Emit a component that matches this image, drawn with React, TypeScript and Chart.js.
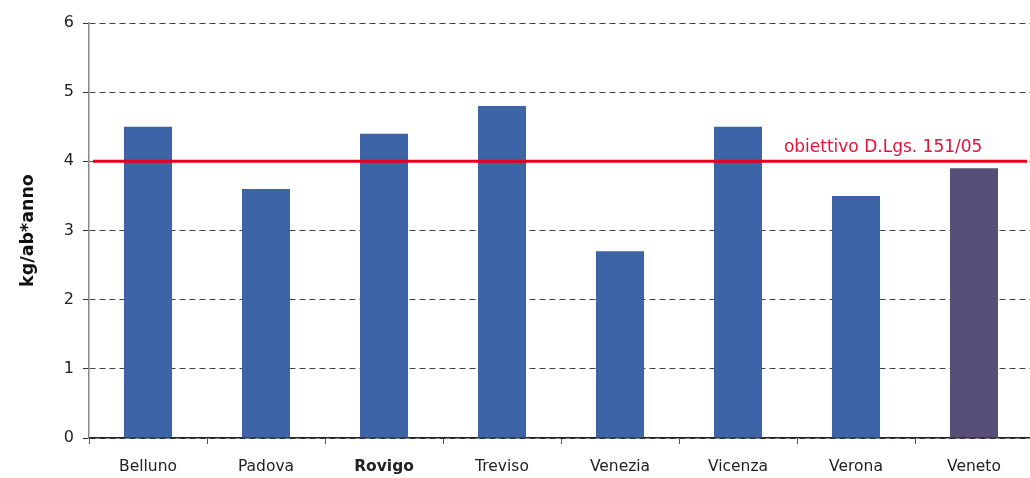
import React, { useEffect, useRef } from "react";
import { Chart, registerables } from "chart.js";

Chart.register(...registerables);

const categories = ["Belluno", "Padova", "Rovigo", "Treviso", "Venezia", "Vicenza", "Verona", "Veneto"];
const values = [4.5, 3.6, 4.4, 4.8, 2.7, 4.5, 3.5, 3.9];
const barColors = ["#3E64A8", "#3E64A8", "#3E64A8", "#3E64A8", "#3E64A8", "#3E64A8", "#3E64A8", "#574F77"];
const targetValue = 4;
const targetLabel = "obiettivo D.Lgs. 151/05";
const yTicks = [0, 1, 2, 3, 4, 5, 6];
const yTitle = "kg/ab*anno";
const boldCategory = "Rovigo";

const FONT = "'DejaVu Sans', Verdana, sans-serif";

const targetPlugin = {
  id: "targetLine",
  afterDatasetsDraw(chart: any) {
    const { ctx, chartArea, scales } = chart;
    const y = scales.y.getPixelForValue(targetValue);
    ctx.save();
    ctx.strokeStyle = "#E8001C";
    ctx.lineWidth = 3;
    ctx.beginPath();
    ctx.moveTo(chartArea.left + 4, y);
    ctx.lineTo(chartArea.right - 6, y);
    ctx.stroke();
    ctx.fillStyle = "#E2133A";
    ctx.font = `17px ${FONT}`;
    ctx.textAlign = "center";
    ctx.textBaseline = "alphabetic";
    const x = scales.x.getPixelForValue(6.23);
    ctx.fillText(targetLabel, x, y - 9);
    ctx.restore();
  },
};

export default function App() {
  const ref = useRef<HTMLCanvasElement>(null);
  useEffect(() => {
    if (!ref.current) return;
    const chart = new Chart(ref.current, {
      type: "bar",
      data: {
        labels: categories,
        datasets: [
          {
            data: values,
            backgroundColor: barColors,
            borderWidth: 0,
            barPercentage: 1,
            categoryPercentage: 0.407,
          },
        ],
      },
      plugins: [targetPlugin],
      options: {
        responsive: false,
        animation: false,
        layout: { padding: { top: 23, right: 1, left: 0, bottom: 0 } },
        plugins: {
          legend: { display: false },
          tooltip: { enabled: false },
        },
        scales: {
          x: {
            offset: true,
            grid: {
              display: true,
              drawOnChartArea: false,
              drawTicks: true,
              tickLength: 6,
              tickColor: "#555",
              offset: true,
            },
            border: { display: true, color: "#222", width: 1.5 },
            ticks: {
              color: "#222",
              padding: 14,
              font: (ctx: any) => ({
                family: FONT,
                size: 15.5,
                weight: categories[ctx.index] === boldCategory ? "bold" : "normal",
              }),
            },
            afterFit(scale: any) {
              scale.height = 40;
            },
          },
          y: {
            min: 0,
            max: 6,
            afterBuildTicks(scale: any) {
              scale.ticks = yTicks.map((v) => ({ value: v }));
            },
            grid: {
              color: "#444",
              lineWidth: 1,
              drawTicks: true,
              tickLength: 6,
              tickColor: "#333",
              tickBorderDash: [],
            },
            border: { display: true, color: "#888", width: 1.5, dash: [6, 4] },
            ticks: {
              color: "#222",
              padding: 9,
              font: { family: FONT, size: 16 },
            },
            title: {
              display: true,
              text: yTitle,
              color: "#111",
              font: { family: FONT, size: 17.5, weight: "bold" },
              padding: { top: 18, bottom: 0 },
            },
            afterFit(scale: any) {
              scale.width = 89;
            },
          },
        },
      },
    });
    return () => chart.destroy();
  }, []);
  return (
    <div style={{ position: "fixed", left: 0, top: 0, width: 1030, height: 478, overflow: "hidden", background: "#fff" }}>
      <canvas ref={ref} width={1034} height={478} style={{ display: "block" }} />
    </div>
  );
}
